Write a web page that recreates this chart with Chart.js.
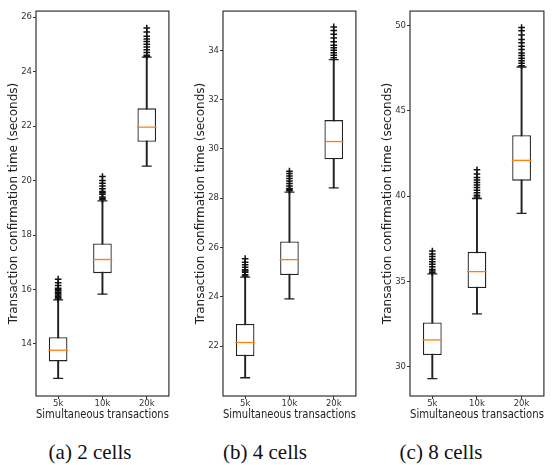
<!DOCTYPE html>
<html>
<head>
<meta charset="utf-8">
<script src="https://cdn.jsdelivr.net/npm/chart.js@4/dist/chart.umd.min.js"></script>
<style>
  body { margin: 0; background: #fff; width: 555px; height: 465px; position: relative; overflow: hidden; }
  .panel { position: absolute; top: 0; height: 422px; }
  .caption { position: absolute; top: 441px; width: 160px; text-align: center;
             font-family: "Liberation Serif", "Times New Roman", serif; font-size: 21px; line-height: 22px; color: #111; }
</style>
</head>
<body>
<div class="panel" style="left:0px;width:180px"><canvas id="c2"></canvas></div>
<div class="panel" style="left:187px;width:180px"><canvas id="c4"></canvas></div>
<div class="panel" style="left:374px;width:181px"><canvas id="c8"></canvas></div>
<div class="caption" style="left:10px">(a) 2 cells</div>
<div class="caption" style="left:185px">(b) 4 cells</div>
<div class="caption" style="left:361px">(c) 8 cells</div>
<script>
const categories = ['5k', '10k', '20k'];
const xTitle = 'Simultaneous transactions';
const yTitle = 'Transaction confirmation time (seconds)';

// (a) 2 cells
const low2 = [12.74, 15.83, 20.53];
const q1_2 = [13.36, 16.60, 21.42];
const med2 = [13.77, 17.10, 21.96];
const q3_2 = [14.25, 17.69, 22.65];
const high2 = [15.62, 19.25, 24.53];
const fliers2 = [
    [15.65, 15.7, 15.75, 15.8, 15.85, 15.9, 15.95, 16.0, 16.05, 16.15, 16.25, 16.38],
    [19.3, 19.35, 19.4, 19.5, 19.55, 19.6, 19.7, 19.8, 19.9, 20.0, 20.15],
    [24.55, 24.6, 24.7, 24.8, 24.9, 25.0, 25.1, 25.2, 25.3, 25.45, 25.6]
];
const ticks2 = [14, 16, 18, 20, 22, 24, 26];

// (b) 4 cells
const low4 = [20.72, 23.92, 28.42];
const q1_4 = [21.60, 24.89, 29.58];
const med4 = [22.15, 25.51, 30.30];
const q3_4 = [22.90, 26.25, 31.17];
const high4 = [24.80, 28.25, 33.62];
const fliers4 = [
    [24.85, 24.9, 25.0, 25.05, 25.1, 25.2, 25.3, 25.4, 25.55],
    [28.3, 28.35, 28.4, 28.5, 28.6, 28.7, 28.8, 28.9, 29.0, 29.1],
    [33.7, 33.8, 33.9, 34.0, 34.1, 34.2, 34.35, 34.5, 34.65, 34.8, 34.95]
];
const ticks4 = [22, 24, 26, 28, 30, 32, 34];

// (c) 8 cells
const low8 = [29.29, 33.09, 38.99];
const q1_8 = [30.67, 34.61, 40.91];
const med8 = [31.56, 35.57, 42.10];
const q3_8 = [32.59, 36.73, 43.58];
const high8 = [35.44, 39.86, 47.58];
const fliers8 = [
    [35.5, 35.6, 35.7, 35.85, 36.0, 36.15, 36.3, 36.45, 36.6, 36.78],
    [39.95, 40.05, 40.2, 40.35, 40.5, 40.65, 40.8, 40.95, 41.1, 41.3, 41.55],
    [47.65, 47.8, 47.95, 48.1, 48.25, 48.4, 48.6, 48.8, 49.0, 49.2, 49.45, 49.7, 49.9]
];
const ticks8 = [30, 35, 40, 45, 50];

const ink = '#222';

// matplotlib style frame round the plot area
const framePlugin = {
    id: 'frame',
    afterDatasetsDraw(chart) {
        const a = chart.chartArea;
        const ctx = chart.ctx;
        ctx.save();
        ctx.strokeStyle = '#333';
        ctx.lineWidth = 1.2;
        ctx.strokeRect(a.left, a.top, a.right - a.left, a.bottom - a.top);
        ctx.restore();
    }
};

function boxChart(id, low, q1, med, q3, high, fliers, tickVals, yMin, yMax) {
    const outliers = [];
    fliers.forEach((list, i) => {
        list.forEach(v => outliers.push({x: categories[i], y: v}));
    });
    return new Chart(document.getElementById(id), {
        type: 'bar',
        data: {
            labels: categories,
            datasets: [{
                // whiskers
                type: 'bar',
                data: low.map((v, i) => [v, high[i]]),
                backgroundColor: ink,
                barThickness: 1.3,
                grouped: false,
                order: 5
            }, {
                // boxes
                type: 'bar',
                data: q1.map((v, i) => [v, q3[i]]),
                backgroundColor: '#fff',
                borderColor: ink,
                borderWidth: 1.3,
                borderSkipped: false,
                categoryPercentage: 1,
                barPercentage: 0.42,
                grouped: false,
                order: 4
            }, {
                // lower caps
                type: 'line',
                data: low,
                showLine: false,
                pointStyle: 'line',
                pointRadius: 5,
                pointBorderWidth: 1.3,
                pointBorderColor: ink,
                order: 3
            }, {
                // upper caps
                type: 'line',
                data: high,
                showLine: false,
                pointStyle: 'line',
                pointRadius: 5,
                pointBorderWidth: 1.3,
                pointBorderColor: ink,
                order: 3
            }, {
                // medians
                type: 'line',
                data: med,
                showLine: false,
                pointStyle: 'line',
                pointRadius: 9.8,
                pointBorderWidth: 1.3,
                pointBorderColor: '#ff7f0e',
                order: 2
            }, {
                // fliers
                type: 'line',
                data: outliers,
                showLine: false,
                pointStyle: 'cross',
                pointRadius: 3.3,
                pointBorderWidth: 1.5,
                pointBorderColor: '#111',
                order: 1
            }]
        },
        options: {
            responsive: true,
            maintainAspectRatio: false,
            animation: false,
            layout: { padding: { top: 4, right: 3, left: 0, bottom: 0 } },
            plugins: {
                legend: { display: false },
                tooltip: { enabled: false }
            },
            scales: {
                x: {
                    offset: true,
                    grid: { display: true, drawOnChartArea: false, offset: false, tickLength: 3, color: '#333' },
                    border: { display: false },
                    ticks: { padding: 0, color: '#333', font: { family: 'DejaVu Sans', size: 8.5 } },
                    title: {
                        display: true,
                        text: xTitle,
                        color: ink,
                        padding: { top: 0, bottom: 0 },
                        font: { family: 'DejaVu Sans', size: 12 }
                    },
                    afterFit(s) { s.height = 26; }
                },
                y: {
                    min: yMin,
                    max: yMax,
                    grid: { display: true, drawOnChartArea: false, tickLength: 3, color: '#333' },
                    border: { display: false },
                    ticks: { padding: 1, color: '#333', font: { family: 'DejaVu Sans', size: 8.5 } },
                    afterBuildTicks(s) { s.ticks = tickVals.map(v => ({value: v})); },
                    title: {
                        display: true,
                        text: yTitle,
                        color: ink,
                        padding: { top: 7, bottom: 0 },
                        font: { family: 'DejaVu Sans', size: 12 }
                    },
                    afterFit(s) { s.width = 36; }
                }
            }
        },
        plugins: [framePlugin]
    });
}

boxChart('c2', low2, q1_2, med2, q3_2, high2, fliers2, ticks2, 12.09, 26.22);
boxChart('c4', low4, q1_4, med4, q3_4, high4, fliers4, ticks4, 19.98, 35.59);
boxChart('c8', low8, q1_8, med8, q3_8, high8, fliers8, ticks8, 28.27, 50.86);
</script>
</body>
</html>
